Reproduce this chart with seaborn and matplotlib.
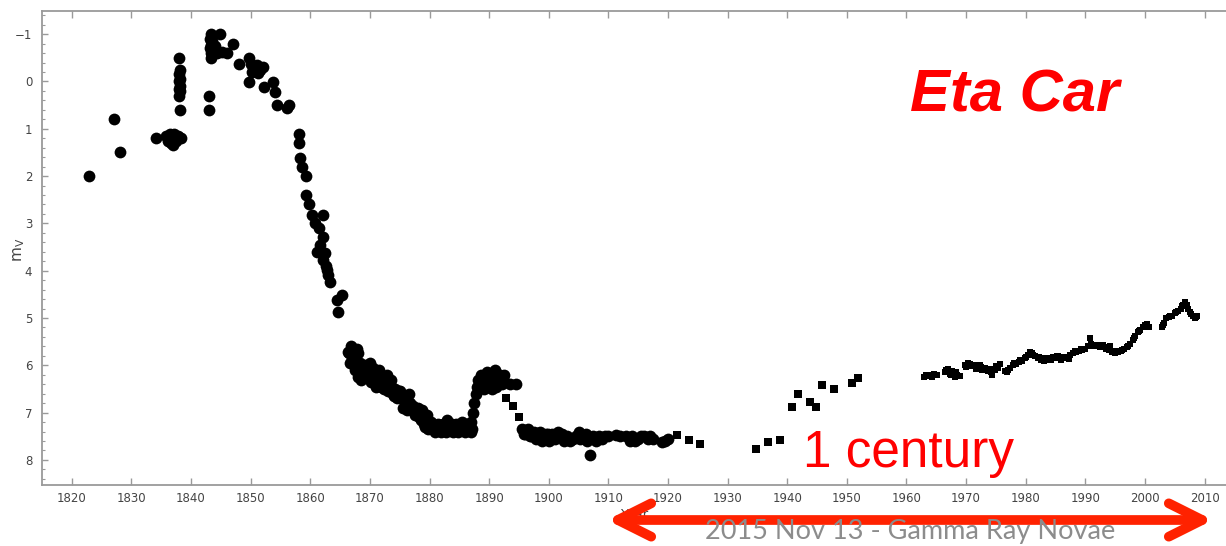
import matplotlib
matplotlib.use("Agg")
import matplotlib.pyplot as plt
from matplotlib.patches import FancyArrowPatch
from matplotlib.ticker import MultipleLocator
import seaborn as sns
import pandas as pd

# ---------------- data ----------------
circle_year = [
    1822.8, 1827.0, 1828.1, 1834.1,
    1835.8, 1836.2, 1836.5, 1836.7, 1837.0, 1837.2, 1837.5, 1837.8, 1838.3, 1836.9,
    1838.0, 1838.1, 1838.0, 1838.1, 1838.0, 1838.1, 1838.0, 1838.1, 1838.0, 1838.1,
    1843.0, 1843.0, 1843.3, 1843.3, 1843.2, 1843.4, 1843.3, 1843.5, 1843.1,
    1844.8, 1844.3, 1845.2, 1846.0, 1844.0, 1847.0, 1848.0,
    1849.7, 1850.4, 1851.5, 1852.0, 1851.2, 1850.0, 1850.7, 1851.0, 1850.2,
    1849.7, 1852.2, 1853.8, 1854.1, 1854.4, 1856.1, 1856.4,
    1858.1, 1858.1, 1858.3, 1858.6, 1859.3, 1859.3, 1859.8, 1860.3, 1862.1,
    1861.5, 1862.1, 1861.1, 1862.4, 1862.1, 1862.8, 1863.3, 1865.3, 1864.5, 1864.7,
    1860.8, 1861.6, 1862.6, 1863.0,
    1866.9, 1867.3, 1867.8, 1866.5, 1867.0, 1866.6, 1868.0, 1868.3, 1867.5, 1868.0,
    1868.5, 1869.0, 1869.5, 1870.0, 1870.5, 1870.8, 1871.0, 1871.5, 1872.0, 1872.3,
    1872.8, 1873.3, 1873.8, 1874.2, 1874.6, 1875.0, 1875.5, 1876.0, 1876.5, 1877.0,
    1877.5, 1878.0, 1878.5, 1879.0, 1879.5, 1880.0, 1880.5, 1881.0, 1881.5, 1882.0,
    1882.5, 1883.0, 1883.5, 1884.0, 1884.5, 1885.0, 1885.5, 1886.0, 1886.5, 1887.0,
    1866.3, 1867.2, 1867.6, 1868.2, 1868.8, 1869.2, 1869.7, 1870.2, 1870.6, 1871.2,
    1871.8, 1872.5, 1873.0, 1873.6, 1874.0, 1874.8, 1875.3, 1876.2, 1876.8, 1877.3,
    1878.2, 1878.8, 1879.3, 1879.8,
    1880.2, 1880.8, 1881.3, 1881.8, 1882.2, 1882.8, 1883.3, 1883.8, 1884.2, 1884.8,
    1885.3, 1885.8, 1886.2, 1886.8, 1887.0,
    1887.2, 1887.3, 1887.5, 1887.8, 1888.0, 1888.2, 1888.6, 1889.0, 1889.4, 1889.8,
    1890.2, 1890.6, 1891.0, 1891.3, 1891.8, 1892.2, 1892.5, 1893.5, 1894.5,
    1888.3, 1888.8, 1889.2, 1889.6, 1890.0, 1890.4, 1890.8, 1891.2, 1891.6, 1892.0,
    1892.3,
    1895.5, 1896.0, 1896.5, 1897.0, 1897.5, 1898.0, 1898.5, 1899.0, 1899.5, 1900.0,
    1900.5, 1901.0, 1901.5, 1902.0, 1902.5, 1903.0, 1904.0, 1905.0, 1905.3, 1906.0,
    1906.5, 1907.0, 1907.5, 1908.0, 1908.5, 1909.0, 1910.0, 1911.3, 1913.0, 1913.6,
    1914.0, 1915.0, 1916.0, 1916.6, 1917.0, 1919.0, 1920.0,
    1895.8, 1896.8, 1897.8, 1898.8, 1899.8, 1900.3, 1901.3, 1902.3, 1903.5, 1904.5,
    1906.2, 1908.2, 1909.5, 1912.0, 1914.5, 1915.5, 1917.5, 1919.5,
]
circle_mag = [
    2.0, 0.8, 1.5, 1.2,
    1.15, 1.25, 1.1, 1.3, 1.2, 1.1, 1.25, 1.15, 1.2, 1.35,
    -0.5, -0.25, -0.15, -0.05, 0.0, 0.1, 0.15, 0.2, 0.3, 0.6,
    0.3, 0.6, -1.0, -0.77, -0.7, -0.6, -0.5, -0.85, -0.9,
    -1.0, -0.6, -0.62, -0.6, -0.75, -0.8, -0.38,
    -0.5, -0.3, -0.24, -0.3, -0.17, -0.38, -0.24, -0.35, -0.2,
    0.01, 0.12, 0.01, 0.22, 0.5, 0.57, 0.5,
    1.1, 1.3, 1.62, 1.8, 2.0, 2.4, 2.58, 2.83, 2.83,
    3.1, 3.28, 3.6, 3.63, 3.78, 3.99, 4.24, 4.52, 4.62, 4.88,
    3.0, 3.45, 3.9, 4.1,
    5.6, 5.65, 5.65, 5.75, 5.85, 5.95, 5.75, 5.95, 6.1, 6.25,
    6.3, 6.1, 6.25, 5.95, 6.05, 6.2, 6.45, 6.1, 6.3, 6.5,
    6.2, 6.4, 6.6, 6.5, 6.7, 6.55, 6.9, 6.75, 6.6, 6.95,
    7.05, 6.9, 7.15, 7.25, 7.05, 7.3, 7.35, 7.4, 7.25, 7.4,
    7.3, 7.15, 7.35, 7.4, 7.25, 7.3, 7.2, 7.4, 7.3, 7.2,
    5.72, 5.9, 6.0, 6.1, 6.25, 6.0, 6.15, 6.35, 6.3, 6.2,
    6.45, 6.35, 6.55, 6.3, 6.65, 6.55, 6.7, 6.95, 6.8, 6.85,
    7.1, 6.95, 7.3, 7.35,
    7.2, 7.3, 7.35, 7.3, 7.25, 7.4, 7.3, 7.25, 7.35, 7.4,
    7.35, 7.3, 7.25, 7.35, 7.4,
    7.35, 7.0, 6.8, 6.6, 6.45, 6.3, 6.2, 6.4, 6.25, 6.45,
    6.2, 6.4, 6.1, 6.3, 6.2, 6.4, 6.2, 6.4, 6.4,
    6.45, 6.3, 6.5, 6.15, 6.35, 6.5, 6.25, 6.45, 6.4, 6.3,
    6.25,
    7.35, 7.45, 7.35, 7.5, 7.4, 7.5, 7.4, 7.55, 7.45, 7.6,
    7.45, 7.55, 7.4, 7.5, 7.6, 7.5, 7.55, 7.4, 7.55, 7.5,
    7.6, 7.9, 7.5, 7.6, 7.5, 7.55, 7.5, 7.47, 7.5, 7.6,
    7.5, 7.55, 7.5, 7.55, 7.5, 7.62, 7.55,
    7.45, 7.5, 7.55, 7.6, 7.45, 7.55, 7.5, 7.45, 7.6, 7.5,
    7.45, 7.55, 7.5, 7.5, 7.6, 7.5, 7.55, 7.6,
]

square_year = [1892.8, 1894.0, 1895.0, 1921.5, 1923.5, 1925.3, 1934.8, 1936.8,
               1938.8, 1940.8, 1941.8, 1943.8, 1944.8, 1945.8, 1947.8, 1950.8, 1951.8]
square_mag = [6.7, 6.85, 7.1, 7.47, 7.58, 7.67, 7.77, 7.63,
              7.58, 6.88, 6.6, 6.78, 6.88, 6.42, 6.5, 6.38, 6.27]

modern_year = [
    1963.0, 1963.5, 1964.0, 1964.6, 1965.2, 1966.5, 1966.9, 1967.3, 1967.7, 1968.1,
    1968.5, 1969.0, 1969.8, 1970.3, 1970.8, 1971.3, 1971.8, 1972.3, 1972.7, 1973.2,
    1973.6, 1974.0, 1974.4, 1974.8, 1975.3, 1975.7, 1976.5, 1976.9, 1977.4, 1977.9,
    1978.4, 1978.9, 1979.4, 1979.9, 1980.4, 1980.8, 1981.2, 1981.6, 1982.0, 1982.5,
    1983.0, 1983.5, 1984.0, 1984.5, 1985.0, 1985.5, 1986.0, 1986.5, 1987.0, 1987.5,
    1988.0, 1988.5, 1989.0, 1989.5, 1990.0, 1990.5, 1990.8, 1991.0, 1991.5, 1992.0,
    1992.5, 1993.0, 1993.5, 1994.0, 1994.5, 1995.0, 1995.5, 1996.0, 1996.5, 1997.0,
    1997.5, 1998.0, 1998.4, 1998.8, 1999.2, 1999.6, 2000.0, 2000.4, 2000.7, 2002.8,
    2003.2, 2003.6, 2004.0, 2004.5, 2005.0, 2005.5, 2006.0, 2006.4, 2006.8, 2007.2,
    2007.6, 2008.0, 2008.4, 2008.8,
    1963.3, 1964.3, 1966.7, 1967.5, 1968.3, 1970.0, 1970.6, 1971.6, 1972.5, 1973.4,
    1974.2, 1975.0, 1977.1, 1978.1, 1979.1, 1980.1, 1981.0, 1982.2, 1983.2, 1984.2,
    1985.2, 1986.2, 1987.2, 1988.2, 1989.2, 1991.2, 1992.2, 1993.2, 1994.2, 1995.2,
    1996.2, 1997.2, 1998.2, 1999.0, 2000.2, 2003.0, 2004.2, 2005.2, 2006.2, 2007.0,
    2007.8, 2008.6,
]
modern_mag = [
    6.25, 6.22, 6.2, 6.18, 6.2, 6.15, 6.08, 6.18, 6.12, 6.25,
    6.2, 6.22, 6.0, 5.95, 6.02, 6.0, 6.05, 6.0, 6.1, 6.05,
    6.12, 6.08, 6.2, 6.1, 6.05, 5.97, 6.12, 6.15, 6.05, 6.0,
    5.98, 5.92, 5.9, 5.85, 5.78, 5.72, 5.78, 5.8, 5.85, 5.88,
    5.9, 5.88, 5.85, 5.82, 5.85, 5.8, 5.88, 5.85, 5.82, 5.78,
    5.75, 5.72, 5.7, 5.68, 5.65, 5.6, 5.42, 5.55, 5.58, 5.6,
    5.62, 5.58, 5.65, 5.68, 5.72, 5.74, 5.72, 5.7, 5.66, 5.62,
    5.55, 5.47, 5.38, 5.3, 5.25, 5.2, 5.15, 5.12, 5.2, 5.2,
    5.1, 5.0, 4.98, 4.95, 4.9, 4.85, 4.8, 4.72, 4.67, 4.8,
    4.88, 4.95, 5.0, 4.95,
    6.2, 6.24, 6.1, 6.2, 6.15, 6.03, 5.98, 6.08, 6.04, 6.1,
    6.14, 6.02, 6.1, 5.95, 5.88, 5.82, 5.75, 5.83, 5.85, 5.88,
    5.8, 5.83, 5.86, 5.7, 5.66, 5.6, 5.57, 5.62, 5.6, 5.7,
    5.68, 5.6, 5.42, 5.28, 5.18, 5.15, 4.96, 4.88, 4.75, 4.72,
    4.92, 4.98,
]

x_ticks = list(range(1820, 2011, 10))
y_ticks = list(range(-1, 9))

# ---------------- figure ----------------
sns.set_style("white")
plt.rcParams["font.family"] = ["DejaVu Sans"]

W, H = 1226, 546
fig = plt.figure(figsize=(W / 100, H / 100), dpi=100)
ax = fig.add_axes([42 / W, 61 / H, (W - 42) / W, 474 / H])

circ = pd.DataFrame({"year": circle_year, "mag": circle_mag})
sq = pd.DataFrame({"year": square_year, "mag": square_mag})
mod = pd.DataFrame({"year": modern_year, "mag": modern_mag})

sns.scatterplot(data=circ, x="year", y="mag", ax=ax, marker="o", s=72,
                color="black", linewidth=0)
sns.scatterplot(data=sq, x="year", y="mag", ax=ax, marker="s", s=30,
                color="black", linewidth=0)
sns.scatterplot(data=mod, x="year", y="mag", ax=ax, marker="s", s=16,
                color="black", linewidth=0)

ax.set_xlim(1815.0, 2013.6)
ax.set_ylim(8.53, -1.49)

spine_c = "#9a9a9a"
for side in ["left", "top", "bottom"]:
    ax.spines[side].set_color(spine_c)
    ax.spines[side].set_linewidth(1.3)
ax.spines["right"].set_visible(False)

ax.set_xticks(x_ticks)
ax.set_yticks(y_ticks)
ax.set_yticklabels([("\u2212" + str(-v)) if v < 0 else str(v) for v in y_ticks])
ax.yaxis.set_minor_locator(MultipleLocator(0.2))
ax.tick_params(axis="x", which="major", direction="in", length=5, width=1,
               color=spine_c, top=True, bottom=True, labelsize=8.5,
               labelcolor="#444444", pad=5)
ax.tick_params(axis="y", which="major", direction="in", length=4, width=1,
               color=spine_c, left=True, right=False, labelsize=8.5,
               labelcolor="#444444", pad=7)
ax.tick_params(axis="y", which="minor", direction="in", length=2.5, width=0.8,
               color=spine_c, left=True, right=False)

ax.set_xlabel("Year", fontsize=9.5, color="#444444", labelpad=2)
ax.set_ylabel("")
fig.text(19 / W, 1 - 250 / H, r"$\mathregular{m_V}$", rotation=90,
         ha="center", va="center", fontsize=11, color="#444444")

# ---------------- overlay annotations ----------------
fig.text(910 / W, 1 - 112 / H, "Eta Car", color="#ff0000", fontsize=43,
         fontweight="bold", fontstyle="italic", family="Liberation Sans",
         ha="left", va="baseline")
fig.text(803 / W, 1 - 467 / H, "1 century", color="#ff0000", fontsize=37,
         family="Liberation Sans", ha="left", va="baseline")

arrow = FancyArrowPatch((607 / W, 1 - 520 / H), (1213 / W, 1 - 520 / H),
                        transform=fig.transFigure,
                        arrowstyle="<->,head_length=24,head_width=12",
                        mutation_scale=1, color="#ff2200", lw=7,
                        shrinkA=0, shrinkB=0, capstyle="round",
                        joinstyle="round")
fig.patches.append(arrow)

fig.text(705 / W, 1 - 539 / H, "2015 Nov 13 - Gamma Ray Novae",
         color="#8c8c8c", fontsize=19.5, family="Lato", ha="left",
         va="baseline")

fig.savefig("out.png", dpi=100)
